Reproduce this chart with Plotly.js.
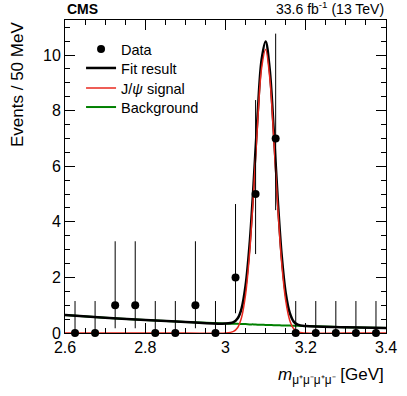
<!DOCTYPE html>
<html>
<head>
<meta charset="utf-8">
<script src="https://cdn.plot.ly/plotly-3.0.1.min.js"></script>
<style>
  html, body { margin: 0; padding: 0; background: #fff; }
  #plot { width: 407px; height: 396px; }
</style>
</head>
<body>
<div id="plot"></div>
<script>
// Binned data, 50 MeV bins
var binCenters = [2.625, 2.675, 2.725, 2.775, 2.825, 2.875, 2.925, 2.975,
                  3.025, 3.075, 3.125, 3.175, 3.225, 3.275, 3.325, 3.375];
var counts   = [0, 0, 1, 1, 0, 0, 1, 0, 2, 5, 7, 0, 0, 0, 0, 0];
var errHigh  = [1.15, 1.15, 2.30, 2.30, 1.15, 1.15, 2.30, 1.15,
                2.64, 3.38, 3.77, 1.15, 1.15, 1.15, 1.15, 1.15];
var errLow   = [0, 0, 0.83, 0.83, 0, 0, 0.83, 0, 1.29, 2.16, 2.58, 0, 0, 0, 0, 0];

// Fit curves
var curveX = [2.6, 2.7, 2.8, 2.9, 3.0, 3.02, 3.03, 3.04, 3.05, 3.06, 3.07, 3.08, 3.09,
              3.1, 3.11, 3.12, 3.13, 3.14, 3.15, 3.16, 3.17, 3.18, 3.2, 3.3, 3.4];
var signalY = [0, 0, 0, 0, 0, 0.06, 0.19, 0.56, 1.38, 2.87, 5.06, 7.55, 9.53,
               10.2, 9.22, 7.07, 4.58, 2.52, 1.17, 0.46, 0.15, 0.04, 0, 0, 0];
var backgroundY = [0.65, 0.55, 0.47, 0.40, 0.34, 0.33, 0.33, 0.32, 0.32, 0.31, 0.31, 0.30, 0.30,
                   0.29, 0.29, 0.28, 0.28, 0.27, 0.27, 0.27, 0.26, 0.26, 0.25, 0.21, 0.18];
var totalY = [0.65, 0.55, 0.47, 0.40, 0.34, 0.39, 0.52, 0.88, 1.70, 3.18, 5.37, 7.85, 9.83,
              10.49, 9.51, 7.35, 4.86, 2.79, 1.44, 0.73, 0.41, 0.30, 0.25, 0.21, 0.18];

var fontFam = "Liberation Sans, Arial, sans-serif";

var bkg = {
  x: curveX, y: backgroundY, name: "Background", type: "scatter", mode: "lines",
  line: {color: "#008000", width: 2, shape: "spline"}, legend: "legend4"
};
var fit = {
  x: curveX, y: totalY, name: "Fit result", type: "scatter", mode: "lines",
  line: {color: "#000000", width: 2.5, shape: "spline"}, legend: "legend2"
};
var sig = {
  x: curveX, y: signalY, name: "J/<i>\u03c8</i> signal", type: "scatter", mode: "lines",
  line: {color: "#e8281e", width: 1.5, shape: "spline"}, legend: "legend3", cliponaxis: false
};
var dataTrace = {
  x: binCenters, y: counts, name: "Data", type: "scatter", mode: "markers",
  marker: {color: "#000", size: 8},
  error_y: {type: "data", symmetric: false, array: errHigh, arrayminus: errLow,
            color: "#000", thickness: 1, width: 0},
  cliponaxis: false, legend: "legend"
};

// one legend per entry so the row spacing matches the original
function legendAt(yPaper) {
  return {x: 0.05, y: yPaper, xanchor: "left", yanchor: "middle",
          bgcolor: "rgba(0,0,0,0)", font: {size: 14.5}, itemwidth: 30};
}

var layout = {
  width: 407, height: 396,
  margin: {l: 65, r: 21, t: 20, b: 63},
  paper_bgcolor: "#fff", plot_bgcolor: "#fff",
  font: {family: fontFam, size: 16, color: "#000"},
  showlegend: true,
  legend: legendAt(0.907),
  legend2: legendAt(0.8465),
  legend3: legendAt(0.7825),
  legend4: legendAt(0.7217),
  xaxis: {
    range: [2.6, 3.4], showgrid: false, zeroline: false,
    showline: true, linecolor: "#000", linewidth: 1, mirror: "allticks",
    ticks: "inside", ticklen: 10, tickcolor: "#000", tickwidth: 1,
    tickvals: [2.6, 2.8, 3.0, 3.2, 3.4], ticktext: ["2.6", "2.8", "3", "3.2", "3.4"],
    minor: {dtick: 0.05, tick0: 2.6, ticks: "inside", ticklen: 5, tickcolor: "#000"},
    tickfont: {size: 16}
  },
  yaxis: {
    range: [0, 11.26], showgrid: false, zeroline: false,
    showline: true, linecolor: "#000", linewidth: 1, mirror: "allticks",
    ticks: "inside", ticklen: 10, tickcolor: "#000", tickwidth: 1,
    tickvals: [0, 2, 4, 6, 8, 10],
    minor: {dtick: 0.5, tick0: 0, ticks: "inside", ticklen: 5, tickcolor: "#000"},
    tickfont: {size: 16}
  },
  annotations: [
    {xref: "paper", yref: "paper", x: 0, y: 1, xanchor: "left", yanchor: "bottom",
     yshift: 1, showarrow: false, text: "<b>CMS</b>", font: {size: 14}},
    {xref: "paper", yref: "paper", x: 1, y: 1, xanchor: "right", yanchor: "bottom",
     yshift: 1, showarrow: false, text: "33.6 fb<sup>-1</sup> (13 TeV)", font: {size: 14}},
    {xref: "paper", yref: "paper", x: 1, y: 0, xanchor: "right", yanchor: "top",
     yshift: -30, showarrow: false, font: {size: 17},
     text: "<i>m</i><sub>\u03bc\u207a\u03bc\u207b\u03bc\u207a\u03bc\u207b</sub> [GeV]"},
    {xref: "paper", yref: "paper", x: 0, y: 1, xanchor: "right", yanchor: "top",
     xshift: -36, showarrow: false, textangle: -90, font: {size: 17},
     text: "Events / 50 MeV"}
  ]
};

Plotly.newPlot("plot", [bkg, fit, sig, dataTrace], layout, {staticPlot: true});
</script>
</body>
</html>
